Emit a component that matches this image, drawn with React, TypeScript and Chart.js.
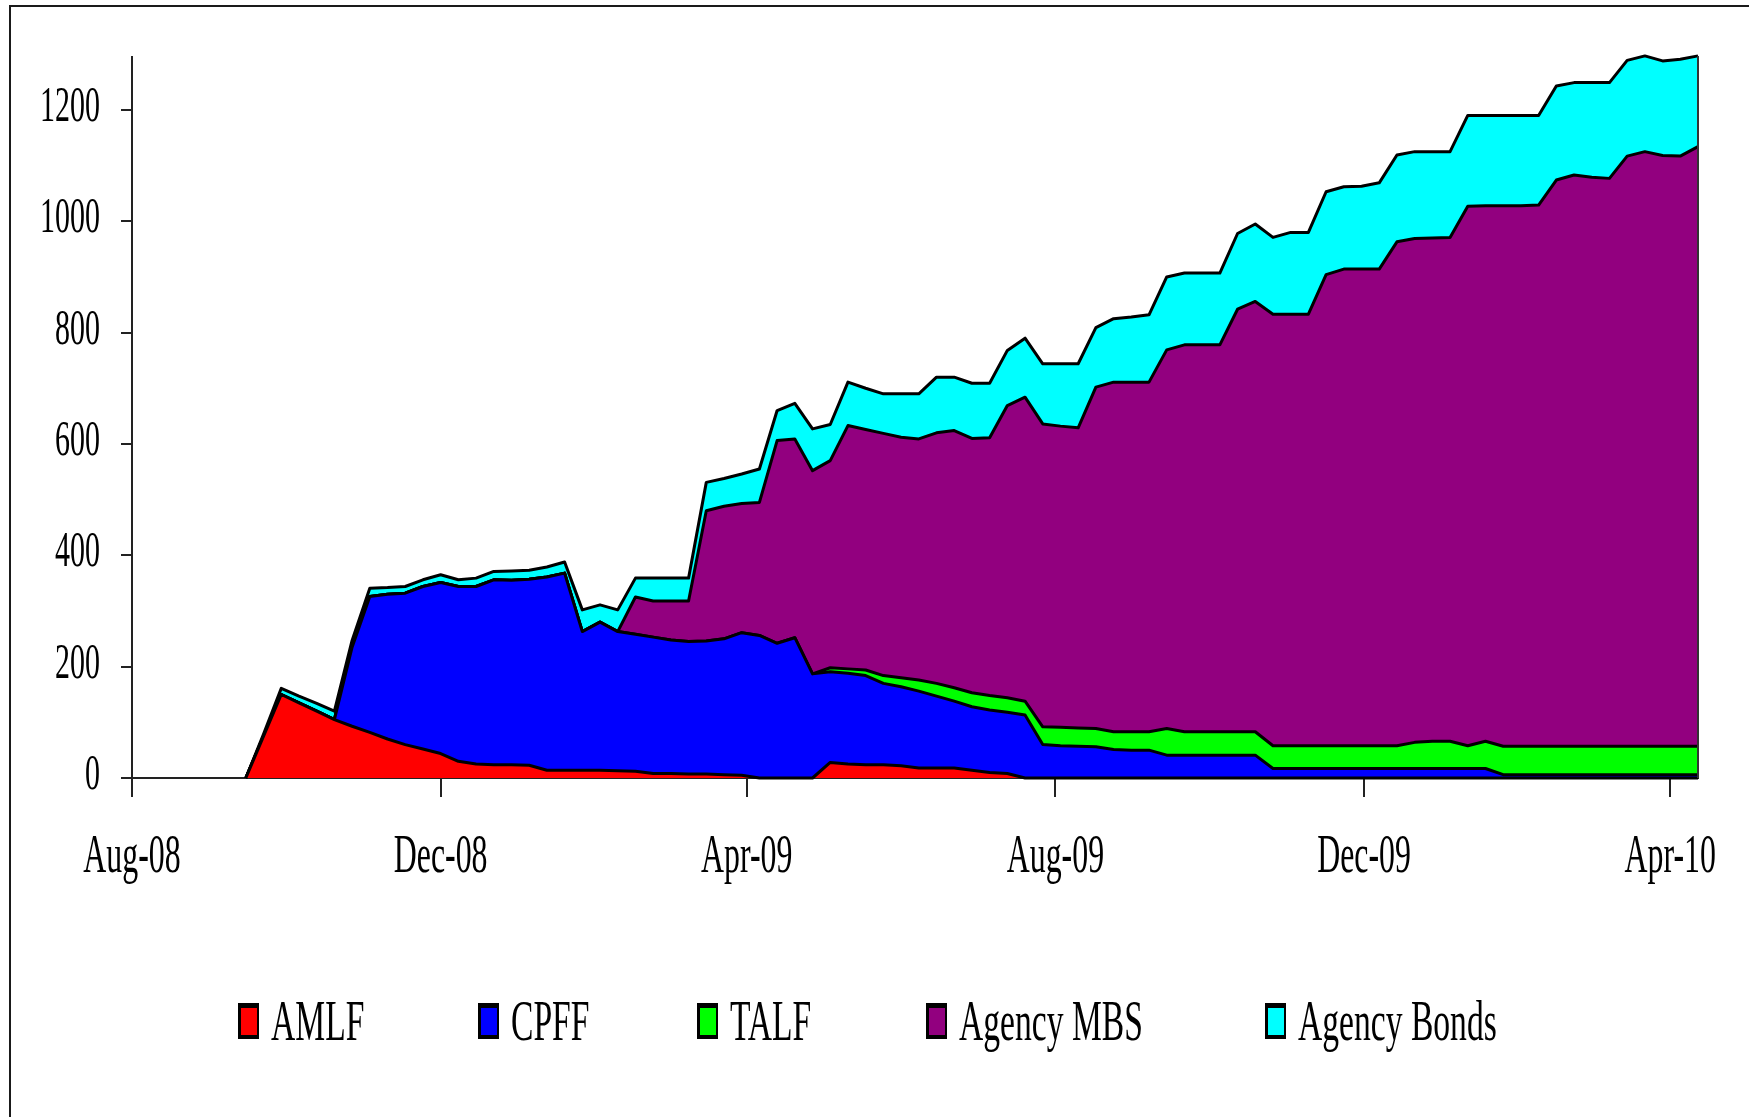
import React, { useEffect, useRef } from "react";
import { Chart, registerables } from "chart.js";

Chart.register(...registerables);

// ---- data -------------------------------------------------------------
const axisStart = "2008-08-01";

const weekDates = [
  "2008-09-15", "2008-09-22", "2008-09-29", "2008-10-06", "2008-10-13", "2008-10-20", "2008-10-27",
  "2008-11-03", "2008-11-10", "2008-11-17", "2008-11-24", "2008-12-01", "2008-12-08", "2008-12-15",
  "2008-12-22", "2008-12-29", "2009-01-05", "2009-01-12", "2009-01-19", "2009-01-26", "2009-02-02",
  "2009-02-09", "2009-02-16", "2009-02-23", "2009-03-02", "2009-03-09", "2009-03-16", "2009-03-23",
  "2009-03-30", "2009-04-06", "2009-04-13", "2009-04-20", "2009-04-27", "2009-05-04", "2009-05-11",
  "2009-05-18", "2009-05-25", "2009-06-01", "2009-06-08", "2009-06-15", "2009-06-22", "2009-06-29",
  "2009-07-06", "2009-07-13", "2009-07-20", "2009-07-27", "2009-08-03", "2009-08-10", "2009-08-17",
  "2009-08-24", "2009-08-31", "2009-09-07", "2009-09-14", "2009-09-21", "2009-09-28", "2009-10-05",
  "2009-10-12", "2009-10-19", "2009-10-26", "2009-11-02", "2009-11-09", "2009-11-16", "2009-11-23",
  "2009-11-30", "2009-12-07", "2009-12-14", "2009-12-21", "2009-12-28", "2010-01-04", "2010-01-11",
  "2010-01-18", "2010-01-25", "2010-02-01", "2010-02-08", "2010-02-15", "2010-02-22", "2010-03-01",
  "2010-03-08", "2010-03-15", "2010-03-22", "2010-03-29", "2010-04-05", "2010-04-12",
];

const amlf = [
  0, 75, 150, 135, 120, 105, 93, 82, 70, 60,
  52, 44, 30, 25, 24, 24, 23, 14, 14, 14,
  14, 13, 12, 8, 8, 7, 7, 6, 5, 0,
  0, 0, 0, 28, 25, 24, 24, 22, 18, 18,
  18, 14, 10, 8, 0, 0, 0, 0, 0, 0,
  0, 0, 0, 0, 0, 0, 0, 0, 0, 0,
  0, 0, 0, 0, 0, 0, 0, 0, 0, 0,
  0, 0, 0, 0, 0, 0, 0, 0, 0, 0,
  0, 0, 0,
];

const cpff = [
  0, 0, 0, 0, 0, 0, 142, 244, 260, 272,
  292, 307, 314, 319, 332, 331, 334, 347, 354, 249,
  266, 250, 246, 245, 240, 238, 239, 244, 256, 256,
  242, 252, 187, 163, 163, 160, 146, 142, 138, 129,
  120, 114, 112, 110, 113, 60, 58, 57, 56, 51,
  50, 50, 41, 41, 41, 41, 41, 41, 17, 17,
  17, 17, 17, 17, 17, 17, 17, 17, 17, 17,
  17, 6, 6, 6, 6, 6, 6, 6, 6, 6,
  6, 6, 6,
];

const talf = [
  0, 0, 0, 0, 0, 0, 0, 0, 0, 0,
  0, 0, 0, 0, 0, 0, 0, 0, 0, 0,
  0, 0, 0, 0, 0, 0, 0, 0, 0, 0,
  0, 0, 0, 7, 8, 10, 14, 16, 20, 23,
  24, 25, 26, 26, 25, 32, 33, 33, 33, 32,
  33, 33, 48, 42, 42, 42, 42, 42, 41, 41,
  41, 41, 41, 41, 41, 41, 47, 49, 49, 41,
  49, 51, 51, 51, 51, 51, 51, 51, 51, 51,
  51, 51, 51,
];

const agencyMbs = [
  0, 0, 0, 0, 0, 0, 0, 0, 0, 0,
  0, 0, 0, 0, 0, 0, 0, 0, 0, 0,
  0, 0, 67, 65, 70, 73, 234, 238, 232, 239,
  364, 357, 365, 372, 437, 432, 435, 432, 433, 450,
  462, 457, 463, 525, 546, 544, 541, 539, 613, 628,
  628, 628, 680, 695, 695, 695, 759, 773, 775, 775,
  775, 846, 856, 856, 856, 905, 905, 904, 905, 969,
  962, 971, 971, 972, 1017, 1026, 1022, 1020, 1060, 1068,
  1061, 1060, 1077,
];

const agencyBonds = [
  0, 4, 11, 12, 14, 15, 12, 15, 12, 12,
  12, 14, 12, 15, 15, 17, 16, 18, 20, 39,
  31, 39, 34, 41, 41, 41, 51, 50, 53, 60,
  54, 64, 75, 65, 78, 74, 71, 78, 81, 100,
  96, 99, 98, 99, 106, 108, 112, 115, 107, 114,
  117, 121, 131, 129, 129, 129, 136, 139, 138, 147,
  147, 149, 148, 149, 155, 156, 156, 155, 154, 163,
  162, 162, 162, 161, 169, 166, 170, 172, 172, 172,
  170, 174, 163,
];

const seriesNames = ["AMLF", "CPFF", "TALF", "Agency MBS", "Agency Bonds"];
const seriesColors = ["#FF0000", "#0000FF", "#00FF00", "#92007F", "#00FFFF"];

const xTickDates = ["2008-08-01", "2008-12-01", "2009-04-01", "2009-08-01", "2009-12-01", "2010-04-01"];
const xTickLabels = ["Aug-08", "Dec-08", "Apr-09", "Aug-09", "Dec-09", "Apr-10"];
const yTickValues = [0, 200, 400, 600, 800, 1000, 1200];
const yMax = 1295;

// ---- helpers ----------------------------------------------------------
function dayOf(s: string): number {
  const [y, m, d] = s.split("-").map(Number);
  const [y0, m0, d0] = axisStart.split("-").map(Number);
  return Math.round((Date.UTC(y, m - 1, d) - Date.UTC(y0, m0 - 1, d0)) / 86400000);
}

const FONT = '"Liberation Serif", "Times New Roman", serif';

function squishText(
  ctx: CanvasRenderingContext2D,
  text: string,
  x: number,
  y: number,
  size: number,
  sx: number,
  align: CanvasTextAlign
) {
  ctx.save();
  ctx.font = `${size}px ${FONT}`;
  ctx.fillStyle = "#000";
  ctx.textAlign = align;
  ctx.textBaseline = "alphabetic";
  ctx.translate(x, y);
  ctx.scale(sx, 1);
  ctx.fillText(text, 0, 0);
  ctx.restore();
}

const legendBoxX = [238, 478, 697, 926, 1265];

const decorPlugin = {
  id: "decor",
  beforeDraw(chart: any) {
    const ctx = chart.ctx as CanvasRenderingContext2D;
    ctx.save();
    ctx.fillStyle = "#fff";
    ctx.fillRect(0, 0, chart.width, chart.height);
    ctx.strokeStyle = "#1a1a1a";
    ctx.lineWidth = 2;
    ctx.beginPath();
    ctx.moveTo(10, chart.height);
    ctx.lineTo(10, 6);
    ctx.lineTo(chart.width, 6);
    ctx.stroke();
    ctx.restore();
  },
  afterDraw(chart: any) {
    const ctx = chart.ctx as CanvasRenderingContext2D;
    const xs = chart.scales.x;
    const ys = chart.scales.y;

    // right edge of the stacked area
    const lastIdx = weekDates.length - 1;
    const total =
      amlf[lastIdx] + cpff[lastIdx] + talf[lastIdx] + agencyMbs[lastIdx] + agencyBonds[lastIdx];
    const xr = xs.getPixelForValue(dayOf(weekDates[lastIdx]));
    ctx.save();
    ctx.strokeStyle = "#333";
    ctx.lineWidth = 2;
    ctx.beginPath();
    ctx.moveTo(xr, ys.getPixelForValue(0));
    ctx.lineTo(xr, ys.getPixelForValue(total));
    ctx.stroke();
    ctx.restore();

    // y tick labels
    yTickValues.forEach((v) => {
      const y = ys.getPixelForValue(v);
      squishText(ctx, String(v), 100, y + 11, 50, 0.6, "right");
    });

    // x tick labels
    xTickDates.forEach((d, i) => {
      const x = xs.getPixelForValue(dayOf(d));
      squishText(ctx, xTickLabels[i], x, 872, 54, 0.59, "center");
    });

    // legend
    seriesNames.forEach((name, i) => {
      const bx = legendBoxX[i];
      ctx.save();
      ctx.fillStyle = "#000";
      ctx.fillRect(bx, 1003, 21, 36);
      ctx.fillStyle = seriesColors[i];
      ctx.fillRect(bx + 3, 1008, 16, 27);
      ctx.restore();
      squishText(ctx, name, bx + 33, 1040, 56, 0.6, "left");
    });
  },
};

export default function App() {
  const ref = useRef<HTMLCanvasElement>(null);

  useEffect(() => {
    const canvas = ref.current;
    if (!canvas) return;
    const days = weekDates.map(dayOf);
    const seriesValues = [amlf, cpff, talf, agencyMbs, agencyBonds];
    const datasets = seriesNames.map((name, i) => ({
      label: name,
      data: days.map((d, j) => ({ x: d, y: seriesValues[i][j] })),
      backgroundColor: seriesColors[i],
      borderColor: "#000",
      borderWidth: 3,
      pointRadius: 0,
      pointHoverRadius: 0,
      tension: 0,
      clip: 6,
      fill: i === 0 ? "origin" : "-1",
    }));

    const chart = new Chart(canvas, {
      type: "line",
      data: { datasets },
      options: {
        animation: false,
        responsive: false,
        devicePixelRatio: 1,
        layout: { padding: { left: 0, top: 57, right: 51, bottom: 0 } },
        plugins: {
          legend: { display: false },
          tooltip: { enabled: false },
          title: { display: false },
        },
        elements: { line: { borderJoinStyle: "round" } },
        scales: {
          x: {
            type: "linear",
            min: 0,
            max: dayOf(weekDates[weekDates.length - 1]),
            bounds: "data",
            ticks: { display: false },
            grid: {
              display: true,
              drawOnChartArea: false,
              drawTicks: true,
              tickLength: 19,
              color: "#222",
              tickColor: "#222",
              lineWidth: 2,
              tickWidth: 2,
            },
            border: { display: true, color: "#222", width: 2 },
            afterBuildTicks: (scale: any) => {
              scale.ticks = xTickDates.map((d) => ({ value: dayOf(d) }));
            },
            afterFit: (scale: any) => {
              scale.height = 339;
            },
          },
          y: {
            type: "linear",
            stacked: true,
            min: 0,
            max: yMax,
            bounds: "data",
            ticks: { display: false },
            grid: {
              display: true,
              drawOnChartArea: false,
              drawTicks: true,
              tickLength: 11,
              color: "#222",
              tickColor: "#222",
              lineWidth: 2,
              tickWidth: 2,
            },
            border: { display: true, color: "#222", width: 2 },
            afterBuildTicks: (scale: any) => {
              scale.ticks = yTickValues.map((v) => ({ value: v }));
            },
            afterFit: (scale: any) => {
              scale.width = 132;
            },
          },
        },
      },
      plugins: [decorPlugin],
    } as any);

    return () => chart.destroy();
  }, []);

  return (
    <div
      style={{
        position: "absolute",
        left: 0,
        top: 0,
        width: 1749,
        height: 1117,
        background: "#fff",
        overflow: "hidden",
      }}
    >
      <canvas
        ref={ref}
        width={1749}
        height={1117}
        style={{ display: "block", width: 1749, height: 1117 }}
      />
    </div>
  );
}
